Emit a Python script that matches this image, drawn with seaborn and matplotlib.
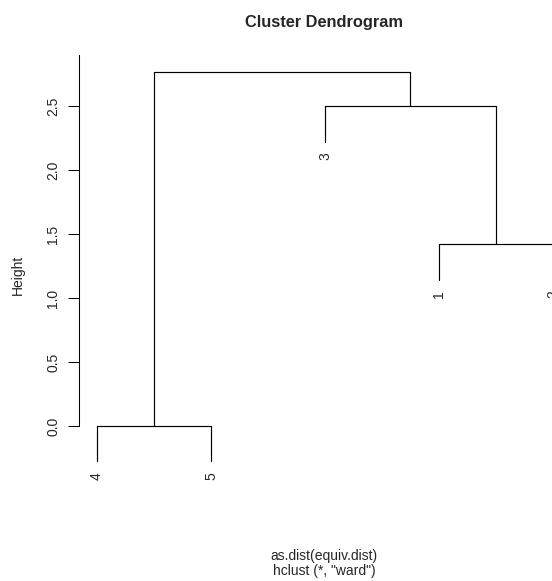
import numpy as np
import pandas as pd
import matplotlib.pyplot as plt
import seaborn as sns

# leaf order along the x axis
leaf_labels = ['4', '5', '3', '1', '2']
# merges: left child, right child, new cluster name, height
merge_left = ['4', '1', '3', 'A']
merge_right = ['5', '2', 'B', 'C']
merge_name = ['A', 'B', 'C', 'D']
merge_height = [0.0, 1.42, 2.50, 2.77]
y_ticks = [0.0, 0.5, 1.0, 1.5, 2.0, 2.5]

sns.set_style('white')
plt.rcParams['font.family'] = ['Liberation Sans', 'DejaVu Sans']

hang = 0.1 * max(merge_height)
pos = {lab: i + 1 for i, lab in enumerate(leaf_labels)}
top = {}
leaf_end = {}
rows = []
for name, l, r, h in zip(merge_name, merge_left, merge_right, merge_height):
    ends = []
    for c in (l, r):
        if c in top:
            ends.append(top[c])
        else:
            leaf_end[c] = h - hang
            ends.append(h - hang)
    rows += [(name, pos[l], ends[0]), (name, pos[l], h),
             (name, pos[r], h), (name, pos[r], ends[1])]
    pos[name] = (pos[l] + pos[r]) / 2
    top[name] = h
df = pd.DataFrame(rows, columns=['link', 'x', 'y'])

W, H = 552, 581
fig = plt.figure(figsize=(W / 100, H / 100), dpi=100)
ax = fig.add_axes([79 / W, 1 - 495 / H, 492 / W, 440 / H])

sns.lineplot(data=df, x='x', y='y', units='link', estimator=None, sort=False,
             color='black', lw=0.85, ax=ax)

for lab in leaf_labels:
    ax.annotate(lab, xy=(pos[lab], leaf_end[lab]), xytext=(0, -7.5),
                textcoords='offset points', rotation=90, ha='center', va='top',
                fontsize=10, annotation_clip=False)

ax.set_xlim(0.842, 5.158)
ax.set_ylim(-0.539, 2.9)
ax.set_xticks([])
ax.set_yticks(y_ticks)
ax.set_yticklabels([f'{t:.1f}' for t in y_ticks], rotation=90, va='center')
ax.tick_params(axis='y', direction='out', length=7.7, width=0.75, pad=5.8,
               labelsize=10, left=True, color='black')
for s in ['top', 'right', 'bottom']:
    ax.spines[s].set_visible(False)
ax.spines['left'].set_bounds(0, 2.9)
ax.spines['left'].set_linewidth(0.75)
ax.spines['left'].set_color('black')
ax.set_xlabel('')
ax.set_ylabel('Height', fontsize=10)
ax.yaxis.set_label_coords((25 - 79) / 492, 0.5)

fig.text(324 / W, 1 - 27 / H, 'Cluster Dendrogram', ha='center', va='baseline',
         fontsize=11.8, fontweight='bold')
fig.text(324 / W, 1 - 560 / H, 'as.dist(equiv.dist)', ha='center', va='baseline',
         fontsize=10)
fig.text(324 / W, 1 - 575 / H, 'hclust (*, "ward")', ha='center', va='baseline',
         fontsize=10)

fig.savefig('out.png', dpi=100)
